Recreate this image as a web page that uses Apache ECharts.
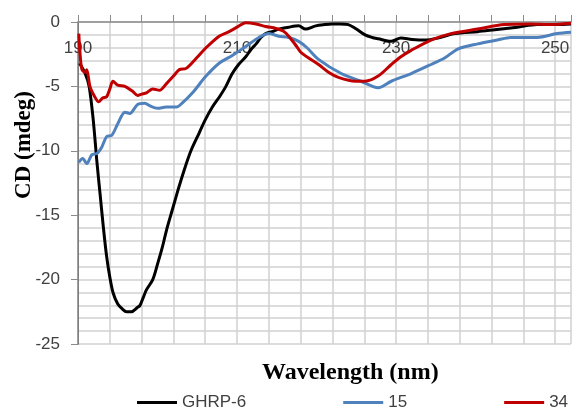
<!DOCTYPE html>
<html>
<head>
<meta charset="utf-8">
<script src="https://cdn.jsdelivr.net/npm/echarts@6/dist/echarts.min.js"></script>
<style>
  html, body { margin: 0; padding: 0; background: #fff; }
  #chart { width: 574px; height: 412px; }
</style>
</head>
<body>
<div id="chart"></div>
<script>
// CD spectra (wavelength in nm, CD in mdeg)
const ghrpNm = [190.2, 190.9, 191.4, 191.9, 192.4, 192.8, 193.2, 193.6, 194.0, 194.4, 195.0, 195.6, 196.1, 196.7, 197.4, 197.8, 198.2, 198.6, 199.4, 200.0, 200.6, 201.2, 201.9, 202.6, 203.3, 204.2, 205.25, 206.0, 206.9, 207.8, 208.6, 209.4, 210.2, 211.1, 211.8, 212.4, 213.0, 213.6, 214.4, 215.25, 216.5, 217.75, 218.6, 219.9, 221.0, 221.9, 223.0, 224.0, 224.9, 226.1, 227.0, 227.75, 229.4, 230.6, 232.0, 233.6, 235.25, 237.4, 240.25, 242.4, 245.25, 247.75, 250.25, 252.0];
const ghrpCd = [-3.2, -4.0, -5.0, -7.5, -11.0, -13.5, -16.0, -18.2, -19.8, -21.0, -21.9, -22.3, -22.5, -22.5, -22.2, -22.0, -21.4, -20.8, -20.0, -18.8, -17.5, -16.0, -14.5, -13.0, -11.6, -10.0, -8.6, -7.6, -6.6, -5.8, -5.0, -4.0, -3.3, -2.7, -2.1, -1.7, -1.2, -0.9, -0.75, -0.55, -0.4, -0.3, -0.55, -0.3, -0.2, -0.15, -0.15, -0.2, -0.5, -1.0, -1.2, -1.3, -1.5, -1.25, -1.35, -1.4, -1.25, -0.9, -0.75, -0.6, -0.4, -0.2, -0.2, -0.15];

const s15Nm = [190.1, 190.6, 191.1, 191.75, 192.4, 193.0, 193.6, 194.25, 195.0, 195.9, 196.5, 197.5, 198.4, 199.0, 200.0, 201.1, 202.4, 203.1, 204.4, 206.1, 207.75, 209.4, 211.1, 212.75, 214.0, 215.25, 216.5, 217.75, 218.8, 220.25, 223.1, 225.6, 227.75, 229.4, 231.9, 234.4, 236.1, 237.75, 240.25, 242.75, 244.4, 247.75, 250.25, 252.0];
const s15Cd = [-10.9, -10.6, -11.0, -10.3, -10.2, -9.7, -8.9, -8.8, -7.9, -7.0, -7.1, -6.4, -6.3, -6.5, -6.7, -6.6, -6.6, -6.3, -5.5, -4.2, -3.2, -2.6, -1.9, -1.2, -0.9, -1.1, -1.2, -1.5, -2.0, -2.9, -4.0, -4.6, -5.1, -4.6, -4.0, -3.3, -2.8, -2.1, -1.7, -1.4, -1.2, -1.2, -0.9, -0.8];

const s34Nm = [190.1, 190.25, 190.5, 190.9, 191.1, 191.5, 192.1, 192.6, 193.1, 193.6, 194.0, 194.4, 195.0, 195.9, 196.9, 197.5, 198.0, 198.6, 199.4, 200.25, 201.1, 202.0, 202.75, 203.6, 204.9, 206.1, 207.75, 209.0, 210.0, 211.1, 212.4, 213.6, 214.9, 215.8, 216.5, 217.5, 218.1, 220.25, 221.5, 222.75, 224.9, 226.1, 227.75, 229.4, 230.6, 231.9, 234.4, 236.9, 240.25, 243.6, 246.9, 249.4, 252.0];
const s34Cd = [-0.9, -2.4, -3.7, -3.9, -3.7, -5.0, -5.8, -6.2, -5.9, -5.8, -5.2, -4.6, -4.9, -5.0, -5.4, -5.7, -5.6, -5.5, -5.2, -5.3, -4.8, -4.2, -3.7, -3.6, -2.8, -2.0, -1.1, -0.75, -0.4, -0.05, -0.15, -0.35, -0.5, -0.7, -1.1, -1.9, -2.4, -3.3, -3.9, -4.3, -4.6, -4.6, -4.2, -3.3, -2.7, -2.2, -1.4, -0.9, -0.55, -0.2, -0.15, -0.2, -0.1];

const seriesNames = ['GHRP-6', '15', '34'];
const seriesColors = ['#000000', '#4f81bd', '#c00000'];

function pairs(xs, ys) {
  return xs.map((x, i) => [x, ys[i]]);
}

const chart = echarts.init(document.getElementById('chart'));
const lineData = [pairs(ghrpNm, ghrpCd), pairs(s15Nm, s15Cd), pairs(s34Nm, s34Cd)];
const gridColor = '#d0d0d0';
const axisColor = '#8c8c8c';
const labelStyle = { color: '#404040', fontSize: 17, fontFamily: 'Liberation Sans' };

chart.setOption({
  animation: false,
  grid: { left: 78, top: 22, right: 0, bottom: 68 },
  xAxis: {
    type: 'value',
    position: 'top',
    min: 190,
    max: 252,
    interval: 4,
    axisLine: { show: true, lineStyle: { color: axisColor, width: 1.5 } },
    axisTick: { show: true, length: 7, lineStyle: { color: axisColor } },
    axisLabel: {
      ...labelStyle,
      inside: true,
      margin: 18,
      formatter: (v) => ((v - 190) % 20 === 0 ? String(v) : ''),
    },
    splitLine: { show: true, lineStyle: { color: gridColor, width: 1.5 } },
  },
  yAxis: [
    // 1 mdeg grid lines (ticks kept but invisible)
    {
      type: 'value',
      min: -25,
      max: 0,
      interval: 1,
      axisTick: { show: true, lineStyle: { color: 'rgba(0,0,0,0)' } },
      axisLabel: { show: false },
      splitLine: { show: true, lineStyle: { color: gridColor, width: 1.5 } },
    },
    // labelled axis, ticks every 5
    {
      type: 'value',
      position: 'left',
      min: -25,
      max: 0,
      interval: 5,
      axisLine: { show: true, lineStyle: { color: axisColor, width: 1.5 } },
      axisTick: { show: true, length: 7, lineStyle: { color: axisColor } },
      axisLabel: { ...labelStyle, margin: 18 },
      splitLine: { show: false },
    },
  ],
  legend: {
    bottom: -4,
    left: 132,
    width: 442,
    itemGap: 97,
    itemWidth: 40,
    itemHeight: 3,
    icon: 'rect',
    textStyle: labelStyle,
    data: seriesNames,
  },
  graphic: [
    {
      type: 'text',
      left: 262,
      top: 361,
      style: { text: 'Wavelength (nm)', font: 'bold 24px "Liberation Serif"', fill: '#000' },
    },
    {
      type: 'text',
      x: 24,
      y: 145,
      rotation: Math.PI / 2,
      style: {
        text: 'CD (mdeg)',
        font: 'bold 23px "Liberation Serif"',
        fill: '#000',
        align: 'center',
        verticalAlign: 'middle',
      },
    },
  ],
  series: seriesNames.map((name, i) => ({
    name: name,
    type: 'line',
    data: lineData[i],
    showSymbol: false,
    smooth: 0.3,
    lineStyle: { color: seriesColors[i], width: 3 },
    itemStyle: { color: seriesColors[i] },
  })),
});
</script>
</body>
</html>
